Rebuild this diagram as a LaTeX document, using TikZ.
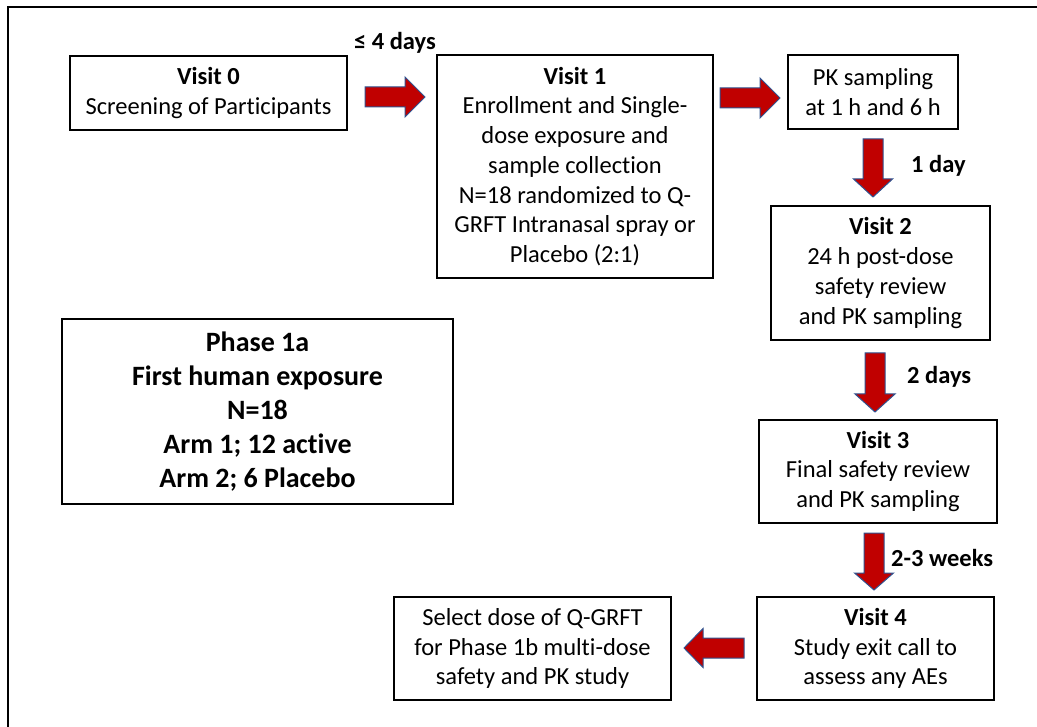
\documentclass[tikz,border=0pt]{standalone}
\usepackage{fontspec}
\setmainfont{Carlito}[Ligatures=NoCommon]
\definecolor{arrred}{RGB}{192,0,0}
\definecolor{arrblue}{RGB}{47,82,143}
\tikzset{
  box/.style={draw, line width=2pt, align=center, inner sep=0pt, font=\fontsize{24.5}{29.7}\selectfont},
  phasebox/.style={box, font=\fontsize{28}{34}\selectfont\bfseries},
  lbl/.style={font=\fontsize{24.5}{29.7}\selectfont\bfseries, inner sep=0pt},
  blk/.style={fill=arrred, draw=arrblue, line width=1pt, line join=miter},
  pics/barrow/.style n args={3}{code={
    \draw[blk] (0,-10) -- ({#1-#2},-10) -- ({#1-#2},-#3) -- (#1,0) -- ({#1-#2},#3) -- ({#1-#2},10) -- (0,10) -- cycle;}}
}
\begin{document}
\begin{tikzpicture}[x=1pt,y=-1pt]
\useasboundingbox (0,0) rectangle (1037,727);
% outer frame (cropped at right and bottom)
\draw[line width=2pt] (8,727) -- (8,7) -- (1037,7);

% boxes
\node[box, minimum width=277pt, minimum height=74pt] (v0) at (208.5,93) {\textbf{Visit 0}\\Screening of Participants};
\node[box, minimum width=276pt, minimum height=223pt] (v1) at (575,166.5) {\textbf{Visit 1}\\Enrollment and Single-\\dose exposure and\\sample collection\\N=18 randomized to Q-\\GRFT Intranasal spray or\\Placebo (2:1)};
\node[box, minimum width=170pt, minimum height=74pt] (pk) at (873,92) {PK sampling\\at 1 h and 6 h};
\node[box, minimum width=219pt, minimum height=134pt] (v2) at (880.5,273) {\textbf{Visit 2}\\24 h post-dose\\safety review\\and PK sampling};
\node[box, minimum width=238pt, minimum height=103pt] (v3) at (878,471.5) {\textbf{Visit 3}\\Final safety review\\and PK sampling};
\node[box, minimum width=237pt, minimum height=103pt] (v4) at (875.5,648.5) {\textbf{Visit 4}\\Study exit call to\\assess any AEs};
\node[box, minimum width=277pt, minimum height=103pt] (sel) at (532.5,648.5) {Select dose of Q-GRFT\\for Phase 1b multi-dose\\safety and PK study};
\node[phasebox, minimum width=391pt, minimum height=185pt] (ph) at (257.5,411.5) {Phase 1a\\First human exposure\\N=18\\Arm 1; 12 active\\Arm 2; 6 Placebo};

% block arrows (tail coordinates)
\coordinate (a1) at (365,97);
\coordinate (a2) at (720,98);
\coordinate (a3) at (873,139);
\coordinate (a4) at (875,353);
\coordinate (a5) at (874,533);
\coordinate (a6) at (744,648);
\pic at (a1) {barrow={60}{20}{20}};
\pic at (a2) {barrow={60}{20}{20}};
\pic[rotate=-90] at (a3) {barrow={58}{18}{19.5}};
\pic[rotate=-90] at (a4) {barrow={59}{18}{20}};
\pic[rotate=-90] at (a5) {barrow={57}{17}{19.5}};
\pic[rotate=180] at (a6) {barrow={60}{19}{19.5}};

% labels
\node[lbl] (l1) at (395,43) {≤ 4 days};
\node[lbl, anchor=west] (l2) at (911,166) {1 day};
\node[lbl, anchor=west] (l3) at (907,377) {2 days};
\node[lbl, anchor=west] (l4) at (891,558) {2-3 weeks};
\end{tikzpicture}
\end{document}
